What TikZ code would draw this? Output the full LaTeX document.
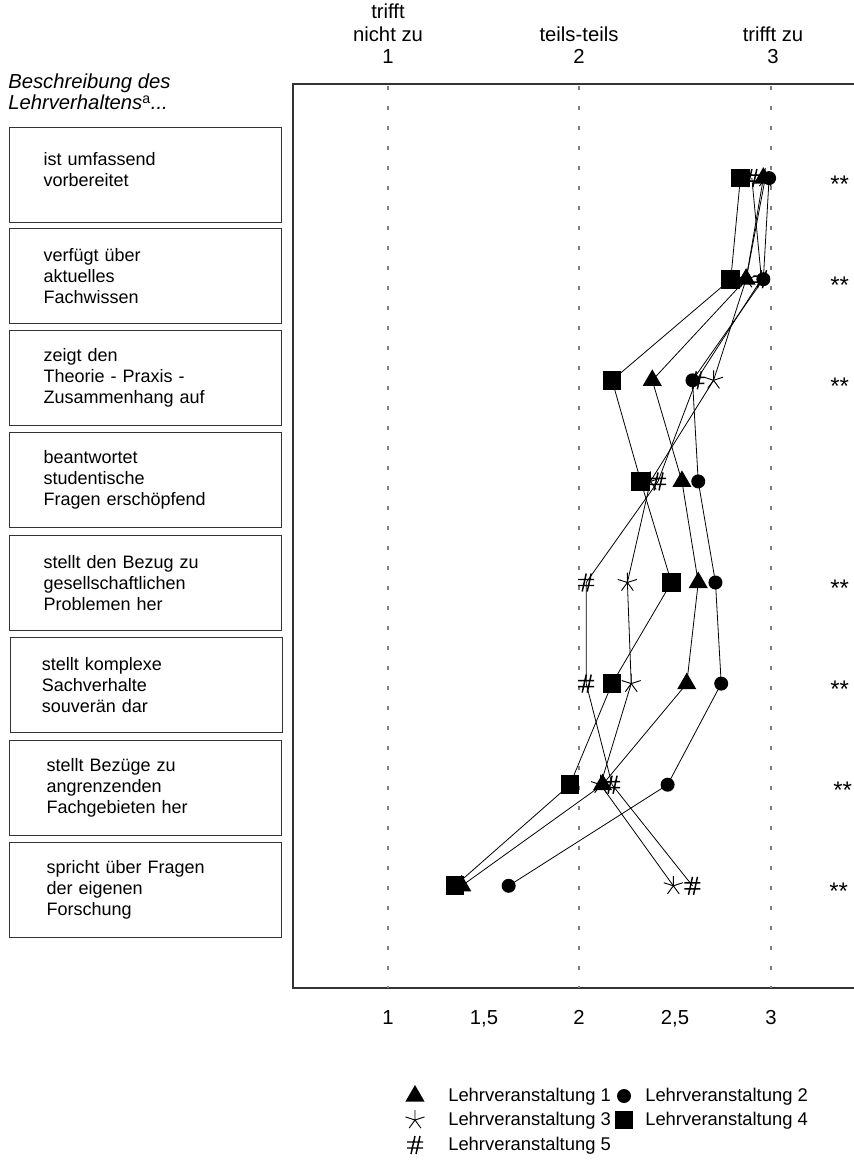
\documentclass[tikz,border=0pt]{standalone}
\usepackage{fontspec}
\setmainfont{Liberation Sans}
\usetikzlibrary{shapes.geometric}

\tikzset{
  txt/.style={inner sep=0pt, font=\fontsize{13.8}{16.5}\selectfont},
  big/.style={inner sep=0pt, font=\fontsize{15.2}{16.8}\selectfont},
  itembox/.style={draw=black!80, line width=0.8pt, anchor=north west, align=left,
    text width=153pt, inner xsep=25.5pt, minimum height=71.25pt, font=\fontsize{13.5}{15.8}\selectfont},
  grid line/.style={gray, line width=0.8pt, dash pattern=on 3pt off 12pt},
  series/.style={black, line width=0.6pt},
  tri/.style={regular polygon, regular polygon sides=3, fill=black, inner sep=0pt, minimum size=16.5pt},
  dot/.style={circle, fill=black, inner sep=0pt, minimum size=10.5pt},
  sq/.style={rectangle, fill=black, inner sep=0pt, minimum size=14pt},
}

% markers that are no shapes
\newcommand\starmark[1]{\draw[line width=0.7pt] \foreach \a in {-90,-162,-234,-306,-18} {(#1) -- ++(\a:10)};}
\newcommand\hashmark[1]{\draw[line width=1.1pt]
  ([shift={(-8,-3)}]#1) -- ++(16,0) ([shift={(-8,3)}]#1) -- ++(16,0)
  ([shift={(-4,9)}]#1) -- ++(4,-18) ([shift={(1,9)}]#1) -- ++(4,-18);}

\def\dataA{2.96,2.87,2.38,2.535,2.62,2.56,2.12,1.385}
\def\dataB{2.99,2.96,2.59,2.62,2.71,2.74,2.46,1.63}
\def\dataC{2.97,2.87,2.70,2.37,2.25,2.27,2.11,2.49}
\def\dataD{2.84,2.79,2.17,2.32,2.48,2.17,1.95,1.35}
\def\dataE{2.90,2.95,2.61,2.41,2.035,2.035,2.17,2.59}

\begin{document}
\begin{tikzpicture}[x=0.75pt, y=-0.75pt]

  \useasboundingbox (0,0) rectangle (853,1162);

  % header
  \node[big, align=center, anchor=south] (h1) at (388,64) {trifft\\nicht zu\\1};
  \node[big, align=center, anchor=south] (h2) at (579,64) {teils-teils\\2};
  \node[big, align=center, anchor=south] (h3) at (773,64) {trifft zu\\3};

  \node[big, anchor=base west, font=\fontsize{15.2}{16.8}\selectfont\itshape] (b1) at (8,89) {Beschreibung des};
  \node[big, anchor=base west, font=\fontsize{15.2}{16.8}\selectfont\itshape] (b2) at (8,110) {Lehrverhaltens\textsuperscript{\upshape a}...};

  % items
  \node[itembox] (i1) at (9,127) {ist umfassend\\vorbereitet\\[-7.5pt]\mbox{}};
  \node[itembox] (i2) at (9,228) {verfügt über\\aktuelles\\Fachwissen};
  \node[itembox] (i3) at (9,330) {zeigt den\\Theorie - Praxis -\\Zusammenhang auf};
  \node[itembox] (i4) at (9,432) {beantwortet\\studentische\\Fragen erschöpfend};
  \node[itembox] (i5) at (9,535) {stellt den Bezug zu\\gesellschaftlichen\\Problemen her};
  \node[itembox, inner xsep=23.5pt, text width=157pt] (i6) at (10,637) {stellt komplexe\\Sachverhalte\\souverän dar};
  \node[itembox, inner xsep=27.75pt, text width=148.5pt] (i7) at (9,740) {stellt Bezüge zu\\angrenzenden\\Fachgebieten her};
  \node[itembox, inner xsep=27.75pt, text width=148.5pt] (i8) at (9,842) {spricht über Fragen\\der eigenen\\Forschung};

  % plot frame
  \draw[black!80, line width=0.9pt] (900,84) -- (293,84) -- (293,988) -- (900,988);
  \draw[grid line] (388,86) -- (388,988);
  \draw[grid line] (579,86) -- (579,988);
  \draw[grid line] (771,86) -- (771,988);

  \node[big, anchor=base] (x1) at (388,1024) {1};
  \node[big, anchor=base] (x2) at (484,1024) {1,5};
  \node[big, anchor=base] (x3) at (579,1024) {2};
  \node[big, anchor=base] (x4) at (675,1024) {2,5};
  \node[big, anchor=base] (x5) at (771,1024) {3};

  % data
  \begin{scope}[shift={(196.5,0)}, x=143.625pt]
    \foreach \v [count=\r] in \dataA \coordinate (a\r) at (\v, 77+101.1*\r);
    \foreach \v [count=\r] in \dataB \coordinate (b\r) at (\v, 77+101.1*\r);
    \foreach \v [count=\r] in \dataC \coordinate (c\r) at (\v, 77+101.1*\r);
    \foreach \v [count=\r] in \dataD \coordinate (d\r) at (\v, 77+101.1*\r);
    \foreach \v [count=\r] in \dataE \coordinate (e\r) at (\v, 77+101.1*\r);
  \end{scope}

  \draw[series] (a1) \foreach \r in {2,...,8} { -- (a\r) };
  \draw[series] (b1) \foreach \r in {2,...,8} { -- (b\r) };
  \draw[series] (c1) \foreach \r in {2,...,8} { -- (c\r) };
  \draw[series] (d1) \foreach \r in {2,...,8} { -- (d\r) };
  \draw[series] (e1) \foreach \r in {2,...,8} { -- (e\r) };

  \foreach \r in {1,...,8} {
    \node[sq] (pd\r) at (d\r) {};
    \hashmark{e\r}
    \node[tri] (pa\r) at (a\r) {};
    \node[dot] (pb\r) at (b\r) {};
    \starmark{c\r}
  }

  % significance
  \foreach \r/\xs in {1/830,2/830,3/830,5/830,6/830,7/833,8/829}
    \node[inner sep=0pt, anchor=base west, font=\fontsize{18}{18}\selectfont] (s\r) at (\xs, 91+101.1*\r) {**};

  % legend
  \coordinate (l1) at (415,1096);
  \coordinate (l2) at (624,1096);
  \coordinate (l3) at (415,1120);
  \coordinate (l4) at (624,1120);
  \coordinate (l5) at (415,1145);
  \node[tri] (m1) at (l1) {};
  \node[dot] (m2) at (l2) {};
  \starmark{l3}
  \node[sq] (m4) at (l4) {};
  \hashmark{l5}
  \node[txt, anchor=base west] (n1) at (448,1101) {Lehrveranstaltung 1};
  \node[txt, anchor=base west] (n2) at (645,1101) {Lehrveranstaltung 2};
  \node[txt, anchor=base west] (n3) at (448,1125) {Lehrveranstaltung 3};
  \node[txt, anchor=base west] (n4) at (645,1125) {Lehrveranstaltung 4};
  \node[txt, anchor=base west] (n5) at (448,1150) {Lehrveranstaltung 5};

\end{tikzpicture}
\end{document}
